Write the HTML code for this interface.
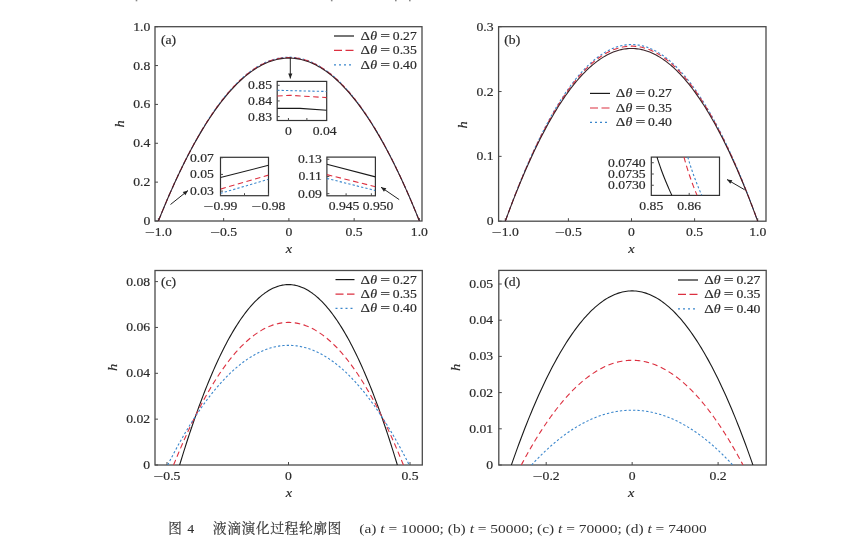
<!DOCTYPE html>
<html><head><meta charset="utf-8"><style>
html,body{margin:0;padding:0;background:#fff;width:857px;height:536px;overflow:hidden}
svg{display:block;filter:blur(0.3px)}
svg text{filter:grayscale(1);font-family:"Liberation Serif", "Noto Serif CJK SC", serif;fill:#2a2a2a;stroke:#2a2a2a;stroke-width:0.18px}
</style></head><body>
<svg width="857" height="536" viewBox="0 0 857 536">
<clipPath id="c1"><rect x="155" y="26.7" width="267" height="194.3"/></clipPath>
<rect x="155" y="26.7" width="267" height="194.3" fill="none" stroke="#4a4a4a" stroke-width="1.3"/>
<line x1="158.40" y1="221" x2="158.40" y2="218.0" stroke="#4a4a4a" stroke-width="1"/>
<text transform="translate(144.94,235.60) scale(1.5,1)" text-anchor="start" font-size="11.6" >&#8722;</text>
<text transform="translate(154.75,235.60) scale(1.18,1)" text-anchor="start" font-size="11.6" >1.0</text>
<line x1="223.65" y1="221" x2="223.65" y2="218.0" stroke="#4a4a4a" stroke-width="1"/>
<text transform="translate(210.19,235.60) scale(1.5,1)" text-anchor="start" font-size="11.6" >&#8722;</text>
<text transform="translate(220.00,235.60) scale(1.18,1)" text-anchor="start" font-size="11.6" >0.5</text>
<line x1="288.90" y1="221" x2="288.90" y2="218.0" stroke="#4a4a4a" stroke-width="1"/>
<text transform="translate(288.90,235.60) scale(1.18,1)" text-anchor="middle" font-size="11.6" >0</text>
<line x1="354.15" y1="221" x2="354.15" y2="218.0" stroke="#4a4a4a" stroke-width="1"/>
<text transform="translate(354.15,235.60) scale(1.18,1)" text-anchor="middle" font-size="11.6" >0.5</text>
<line x1="419.40" y1="221" x2="419.40" y2="218.0" stroke="#4a4a4a" stroke-width="1"/>
<text transform="translate(419.40,235.60) scale(1.18,1)" text-anchor="middle" font-size="11.6" >1.0</text>
<line x1="155" y1="221.00" x2="158.0" y2="221.00" stroke="#4a4a4a" stroke-width="1"/>
<text transform="translate(150.30,225.00) scale(1.18,1)" text-anchor="end" font-size="11.6" >0</text>
<line x1="155" y1="182.14" x2="158.0" y2="182.14" stroke="#4a4a4a" stroke-width="1"/>
<text transform="translate(150.30,186.14) scale(1.18,1)" text-anchor="end" font-size="11.6" >0.2</text>
<line x1="155" y1="143.28" x2="158.0" y2="143.28" stroke="#4a4a4a" stroke-width="1"/>
<text transform="translate(150.30,147.28) scale(1.18,1)" text-anchor="end" font-size="11.6" >0.4</text>
<line x1="155" y1="104.42" x2="158.0" y2="104.42" stroke="#4a4a4a" stroke-width="1"/>
<text transform="translate(150.30,108.42) scale(1.18,1)" text-anchor="end" font-size="11.6" >0.6</text>
<line x1="155" y1="65.56" x2="158.0" y2="65.56" stroke="#4a4a4a" stroke-width="1"/>
<text transform="translate(150.30,69.56) scale(1.18,1)" text-anchor="end" font-size="11.6" >0.8</text>
<line x1="155" y1="26.70" x2="158.0" y2="26.70" stroke="#4a4a4a" stroke-width="1"/>
<text transform="translate(150.30,30.70) scale(1.18,1)" text-anchor="end" font-size="11.6" >1.0</text>
<polyline points="158.40,221.00 160.04,216.90 161.68,212.86 163.32,208.87 164.97,204.93 166.61,201.04 168.25,197.20 169.89,193.42 171.53,189.69 173.17,186.01 174.82,182.38 176.46,178.80 178.10,175.27 179.74,171.80 181.38,168.38 183.02,165.01 184.66,161.69 186.31,158.42 187.95,155.21 189.59,152.05 191.23,148.94 192.87,145.88 194.51,142.87 196.15,139.92 197.80,137.01 199.44,134.16 201.08,131.36 202.72,128.61 204.36,125.92 206.00,123.27 207.65,120.68 209.29,118.14 210.93,115.65 212.57,113.22 214.21,110.83 215.85,108.50 217.49,106.22 219.14,103.99 220.78,101.81 222.42,99.68 224.06,97.61 225.70,95.59 227.34,93.62 228.98,91.70 230.63,89.83 232.27,88.02 233.91,86.26 235.55,84.55 237.19,82.89 238.83,81.28 240.48,79.72 242.12,78.22 243.76,76.77 245.40,75.37 247.04,74.02 248.68,72.73 250.32,71.48 251.97,70.29 253.61,69.15 255.25,68.06 256.89,67.02 258.53,66.04 260.17,65.10 261.82,64.22 263.46,63.39 265.10,62.62 266.74,61.89 268.38,61.22 270.02,60.59 271.66,60.02 273.31,59.51 274.95,59.04 276.59,58.62 278.23,58.26 279.87,57.95 281.51,57.69 283.15,57.48 284.80,57.33 286.44,57.22 288.08,57.17 289.72,57.17 291.36,57.22 293.00,57.33 294.65,57.48 296.29,57.69 297.93,57.95 299.57,58.26 301.21,58.62 302.85,59.04 304.49,59.51 306.14,60.02 307.78,60.59 309.42,61.22 311.06,61.89 312.70,62.62 314.34,63.39 315.98,64.22 317.63,65.10 319.27,66.04 320.91,67.02 322.55,68.06 324.19,69.15 325.83,70.29 327.48,71.48 329.12,72.73 330.76,74.02 332.40,75.37 334.04,76.77 335.68,78.22 337.32,79.72 338.97,81.28 340.61,82.89 342.25,84.55 343.89,86.26 345.53,88.02 347.17,89.83 348.82,91.70 350.46,93.62 352.10,95.59 353.74,97.61 355.38,99.68 357.02,101.81 358.66,103.99 360.31,106.22 361.95,108.50 363.59,110.83 365.23,113.22 366.87,115.65 368.51,118.14 370.15,120.68 371.80,123.27 373.44,125.92 375.08,128.61 376.72,131.36 378.36,134.16 380.00,137.01 381.65,139.92 383.29,142.87 384.93,145.88 386.57,148.94 388.21,152.05 389.85,155.21 391.49,158.42 393.14,161.69 394.78,165.01 396.42,168.38 398.06,171.80 399.70,175.27 401.34,178.80 402.98,182.38 404.63,186.01 406.27,189.69 407.91,193.42 409.55,197.20 411.19,201.04 412.83,204.93 414.48,208.87 416.12,212.86 417.76,216.90 419.40,221.00" fill="none" stroke="#3a86cc" stroke-width="1.1" stroke-dasharray="2.3 2.1" clip-path="url(#c1)" stroke-linejoin="round"/>
<polyline points="158.40,221.00 160.04,216.91 161.68,212.87 163.32,208.89 164.97,204.96 166.61,201.07 168.25,197.24 169.89,193.46 171.53,189.74 173.17,186.06 174.82,182.44 176.46,178.87 178.10,175.35 179.74,171.88 181.38,168.47 183.02,165.10 184.66,161.79 186.31,158.53 187.95,155.32 189.59,152.16 191.23,149.06 192.87,146.00 194.51,143.00 196.15,140.05 197.80,137.15 199.44,134.31 201.08,131.51 202.72,128.77 204.36,126.08 206.00,123.44 207.65,120.85 209.29,118.31 210.93,115.83 212.57,113.40 214.21,111.01 215.85,108.69 217.49,106.41 219.14,104.18 220.78,102.01 222.42,99.89 224.06,97.82 225.70,95.80 227.34,93.83 228.98,91.92 230.63,90.05 232.27,88.24 233.91,86.48 235.55,84.77 237.19,83.12 238.83,81.51 240.48,79.96 242.12,78.46 243.76,77.01 245.40,75.61 247.04,74.27 248.68,72.97 250.32,71.73 251.97,70.54 253.61,69.40 255.25,68.31 256.89,67.28 258.53,66.30 260.17,65.36 261.82,64.48 263.46,63.66 265.10,62.88 266.74,62.15 268.38,61.48 270.02,60.86 271.66,60.29 273.31,59.77 274.95,59.31 276.59,58.89 278.23,58.53 279.87,58.22 281.51,57.96 283.15,57.76 284.80,57.60 286.44,57.50 288.08,57.44 289.72,57.44 291.36,57.50 293.00,57.60 294.65,57.76 296.29,57.96 297.93,58.22 299.57,58.53 301.21,58.89 302.85,59.31 304.49,59.77 306.14,60.29 307.78,60.86 309.42,61.48 311.06,62.15 312.70,62.88 314.34,63.66 315.98,64.48 317.63,65.36 319.27,66.30 320.91,67.28 322.55,68.31 324.19,69.40 325.83,70.54 327.48,71.73 329.12,72.97 330.76,74.27 332.40,75.61 334.04,77.01 335.68,78.46 337.32,79.96 338.97,81.51 340.61,83.12 342.25,84.77 343.89,86.48 345.53,88.24 347.17,90.05 348.82,91.92 350.46,93.83 352.10,95.80 353.74,97.82 355.38,99.89 357.02,102.01 358.66,104.18 360.31,106.41 361.95,108.69 363.59,111.01 365.23,113.40 366.87,115.83 368.51,118.31 370.15,120.85 371.80,123.44 373.44,126.08 375.08,128.77 376.72,131.51 378.36,134.31 380.00,137.15 381.65,140.05 383.29,143.00 384.93,146.00 386.57,149.06 388.21,152.16 389.85,155.32 391.49,158.53 393.14,161.79 394.78,165.10 396.42,168.47 398.06,171.88 399.70,175.35 401.34,178.87 402.98,182.44 404.63,186.06 406.27,189.74 407.91,193.46 409.55,197.24 411.19,201.07 412.83,204.96 414.48,208.89 416.12,212.87 417.76,216.91 419.40,221.00" fill="none" stroke="#dc3040" stroke-width="1.1" stroke-dasharray="5.5 3.5" clip-path="url(#c1)" stroke-linejoin="round"/>
<polyline points="158.40,221.00 160.04,216.93 161.68,212.91 163.32,208.94 164.97,205.02 166.61,201.15 168.25,197.34 169.89,193.57 171.53,189.86 173.17,186.20 174.82,182.59 176.46,179.03 178.10,175.53 179.74,172.07 181.38,168.67 183.02,165.32 184.66,162.02 186.31,158.77 187.95,155.58 189.59,152.43 191.23,149.34 192.87,146.30 194.51,143.31 196.15,140.37 197.80,137.48 199.44,134.65 201.08,131.86 202.72,129.13 204.36,126.45 206.00,123.82 207.65,121.24 209.29,118.71 210.93,116.24 212.57,113.82 214.21,111.45 215.85,109.13 217.49,106.86 219.14,104.64 220.78,102.47 222.42,100.36 224.06,98.30 225.70,96.29 227.34,94.33 228.98,92.42 230.63,90.57 232.27,88.76 233.91,87.01 235.55,85.31 237.19,83.66 238.83,82.06 240.48,80.51 242.12,79.02 243.76,77.57 245.40,76.18 247.04,74.84 248.68,73.55 250.32,72.32 251.97,71.13 253.61,70.00 255.25,68.91 256.89,67.88 258.53,66.90 260.17,65.97 261.82,65.10 263.46,64.27 265.10,63.50 266.74,62.78 268.38,62.11 270.02,61.49 271.66,60.92 273.31,60.41 274.95,59.94 276.59,59.53 278.23,59.17 279.87,58.86 281.51,58.60 283.15,58.40 284.80,58.24 286.44,58.14 288.08,58.09 289.72,58.09 291.36,58.14 293.00,58.24 294.65,58.40 296.29,58.60 297.93,58.86 299.57,59.17 301.21,59.53 302.85,59.94 304.49,60.41 306.14,60.92 307.78,61.49 309.42,62.11 311.06,62.78 312.70,63.50 314.34,64.27 315.98,65.10 317.63,65.97 319.27,66.90 320.91,67.88 322.55,68.91 324.19,70.00 325.83,71.13 327.48,72.32 329.12,73.55 330.76,74.84 332.40,76.18 334.04,77.57 335.68,79.02 337.32,80.51 338.97,82.06 340.61,83.66 342.25,85.31 343.89,87.01 345.53,88.76 347.17,90.57 348.82,92.42 350.46,94.33 352.10,96.29 353.74,98.30 355.38,100.36 357.02,102.47 358.66,104.64 360.31,106.86 361.95,109.13 363.59,111.45 365.23,113.82 366.87,116.24 368.51,118.71 370.15,121.24 371.80,123.82 373.44,126.45 375.08,129.13 376.72,131.86 378.36,134.65 380.00,137.48 381.65,140.37 383.29,143.31 384.93,146.30 386.57,149.34 388.21,152.43 389.85,155.58 391.49,158.77 393.14,162.02 394.78,165.32 396.42,168.67 398.06,172.07 399.70,175.53 401.34,179.03 402.98,182.59 404.63,186.20 406.27,189.86 407.91,193.57 409.55,197.34 411.19,201.15 412.83,205.02 414.48,208.94 416.12,212.91 417.76,216.93 419.40,221.00" fill="none" stroke="#3a2228" stroke-width="1.1" clip-path="url(#c1)" stroke-linejoin="round"/>
<text transform="translate(161.00,43.50) scale(1.18,1)" text-anchor="start" font-size="11.6" >(a)</text>
<line x1="334" y1="36" x2="354" y2="36" stroke="#1a1a1a" stroke-width="1.2"/>
<text transform="translate(360.60,40.00) scale(1.28,1)" text-anchor="start" font-size="11.6" >&#916;</text>
<text transform="translate(370.20,40.00) scale(1.2,1)" text-anchor="start" font-size="11.6" font-style="italic">&#952;</text>
<text transform="translate(380.20,40.00) scale(1.5,1)" text-anchor="start" font-size="11.6" >=</text>
<text transform="translate(392.80,40.00) scale(1.18,1)" text-anchor="start" font-size="11.6" >0.27</text>
<line x1="334" y1="50.4" x2="354" y2="50.4" stroke="#dc3040" stroke-width="1.2" stroke-dasharray="8 3.5"/>
<text transform="translate(360.60,54.40) scale(1.28,1)" text-anchor="start" font-size="11.6" >&#916;</text>
<text transform="translate(370.20,54.40) scale(1.2,1)" text-anchor="start" font-size="11.6" font-style="italic">&#952;</text>
<text transform="translate(380.20,54.40) scale(1.5,1)" text-anchor="start" font-size="11.6" >=</text>
<text transform="translate(392.80,54.40) scale(1.18,1)" text-anchor="start" font-size="11.6" >0.35</text>
<line x1="334" y1="64.8" x2="354" y2="64.8" stroke="#3a86cc" stroke-width="1.2" stroke-dasharray="2 3"/>
<text transform="translate(360.60,68.80) scale(1.28,1)" text-anchor="start" font-size="11.6" >&#916;</text>
<text transform="translate(370.20,68.80) scale(1.2,1)" text-anchor="start" font-size="11.6" font-style="italic">&#952;</text>
<text transform="translate(380.20,68.80) scale(1.5,1)" text-anchor="start" font-size="11.6" >=</text>
<text transform="translate(392.80,68.80) scale(1.18,1)" text-anchor="start" font-size="11.6" >0.40</text>
<text transform="translate(123.5,124) rotate(-90) scale(1.15,1)" font-size="12.5" font-style="italic" text-anchor="middle">h</text>
<text transform="translate(288.9,253) scale(1.15,1)" font-size="12.5" font-style="italic" text-anchor="middle">x</text>
<clipPath id="c2"><rect x="498.6" y="26.7" width="267.4" height="194.5"/></clipPath>
<rect x="498.6" y="26.7" width="267.4" height="194.5" fill="none" stroke="#4a4a4a" stroke-width="1.3"/>
<line x1="505.30" y1="221.2" x2="505.30" y2="218.2" stroke="#4a4a4a" stroke-width="1"/>
<text transform="translate(491.84,235.80) scale(1.5,1)" text-anchor="start" font-size="11.6" >&#8722;</text>
<text transform="translate(501.65,235.80) scale(1.18,1)" text-anchor="start" font-size="11.6" >1.0</text>
<line x1="568.40" y1="221.2" x2="568.40" y2="218.2" stroke="#4a4a4a" stroke-width="1"/>
<text transform="translate(554.94,235.80) scale(1.5,1)" text-anchor="start" font-size="11.6" >&#8722;</text>
<text transform="translate(564.75,235.80) scale(1.18,1)" text-anchor="start" font-size="11.6" >0.5</text>
<line x1="631.50" y1="221.2" x2="631.50" y2="218.2" stroke="#4a4a4a" stroke-width="1"/>
<text transform="translate(631.50,235.80) scale(1.18,1)" text-anchor="middle" font-size="11.6" >0</text>
<line x1="694.60" y1="221.2" x2="694.60" y2="218.2" stroke="#4a4a4a" stroke-width="1"/>
<text transform="translate(694.60,235.80) scale(1.18,1)" text-anchor="middle" font-size="11.6" >0.5</text>
<line x1="757.70" y1="221.2" x2="757.70" y2="218.2" stroke="#4a4a4a" stroke-width="1"/>
<text transform="translate(757.70,235.80) scale(1.18,1)" text-anchor="middle" font-size="11.6" >1.0</text>
<line x1="498.6" y1="221.20" x2="501.6" y2="221.20" stroke="#4a4a4a" stroke-width="1"/>
<text transform="translate(493.50,225.20) scale(1.18,1)" text-anchor="end" font-size="11.6" >0</text>
<line x1="498.6" y1="156.37" x2="501.6" y2="156.37" stroke="#4a4a4a" stroke-width="1"/>
<text transform="translate(493.50,160.37) scale(1.18,1)" text-anchor="end" font-size="11.6" >0.1</text>
<line x1="498.6" y1="91.54" x2="501.6" y2="91.54" stroke="#4a4a4a" stroke-width="1"/>
<text transform="translate(493.50,95.54) scale(1.18,1)" text-anchor="end" font-size="11.6" >0.2</text>
<line x1="498.6" y1="26.71" x2="501.6" y2="26.71" stroke="#4a4a4a" stroke-width="1"/>
<text transform="translate(493.50,30.71) scale(1.18,1)" text-anchor="end" font-size="11.6" >0.3</text>
<polyline points="505.30,221.20 506.89,216.78 508.47,212.42 510.06,208.12 511.65,203.87 513.24,199.68 514.82,195.54 516.41,191.46 518.00,187.43 519.59,183.47 521.17,179.55 522.76,175.69 524.35,171.89 525.94,168.15 527.52,164.46 529.11,160.82 530.70,157.25 532.29,153.72 533.87,150.26 535.46,146.85 537.05,143.49 538.64,140.20 540.22,136.95 541.81,133.77 543.40,130.64 544.99,127.56 546.57,124.54 548.16,121.58 549.75,118.67 551.34,115.82 552.92,113.03 554.51,110.29 556.10,107.60 557.68,104.98 559.27,102.41 560.86,99.89 562.45,97.43 564.03,95.03 565.62,92.68 567.21,90.39 568.80,88.15 570.38,85.97 571.97,83.85 573.56,81.78 575.15,79.76 576.73,77.81 578.32,75.91 579.91,74.06 581.50,72.27 583.08,70.54 584.67,68.86 586.26,67.24 587.85,65.68 589.43,64.17 591.02,62.71 592.61,61.32 594.20,59.97 595.78,58.69 597.37,57.46 598.96,56.28 600.55,55.17 602.13,54.10 603.72,53.10 605.31,52.15 606.89,51.25 608.48,50.42 610.07,49.63 611.66,48.91 613.24,48.23 614.83,47.62 616.42,47.06 618.01,46.56 619.59,46.11 621.18,45.72 622.77,45.38 624.36,45.10 625.94,44.88 627.53,44.71 629.12,44.60 630.71,44.55 632.29,44.55 633.88,44.60 635.47,44.71 637.06,44.88 638.64,45.10 640.23,45.38 641.82,45.72 643.41,46.11 644.99,46.56 646.58,47.06 648.17,47.62 649.76,48.23 651.34,48.91 652.93,49.63 654.52,50.42 656.11,51.25 657.69,52.15 659.28,53.10 660.87,54.10 662.45,55.17 664.04,56.28 665.63,57.46 667.22,58.69 668.80,59.97 670.39,61.32 671.98,62.71 673.57,64.17 675.15,65.68 676.74,67.24 678.33,68.86 679.92,70.54 681.50,72.27 683.09,74.06 684.68,75.91 686.27,77.81 687.85,79.76 689.44,81.78 691.03,83.85 692.62,85.97 694.20,88.15 695.79,90.39 697.38,92.68 698.97,95.03 700.55,97.43 702.14,99.89 703.73,102.41 705.32,104.98 706.90,107.60 708.49,110.29 710.08,113.03 711.66,115.82 713.25,118.67 714.84,121.58 716.43,124.54 718.01,127.56 719.60,130.64 721.19,133.77 722.78,136.95 724.36,140.20 725.95,143.49 727.54,146.85 729.13,150.26 730.71,153.72 732.30,157.25 733.89,160.82 735.48,164.46 737.06,168.15 738.65,171.89 740.24,175.69 741.83,179.55 743.41,183.47 745.00,187.43 746.59,191.46 748.18,195.54 749.76,199.68 751.35,203.87 752.94,208.12 754.53,212.42 756.11,216.78 757.70,221.20" fill="none" stroke="#3a86cc" stroke-width="1.1" stroke-dasharray="2.3 2.1" clip-path="url(#c2)" stroke-linejoin="round"/>
<polyline points="505.30,221.20 506.89,216.82 508.47,212.50 510.06,208.24 511.65,204.03 513.24,199.87 514.82,195.78 516.41,191.73 518.00,187.74 519.59,183.81 521.17,179.93 522.76,176.11 524.35,172.35 525.94,168.63 527.52,164.98 529.11,161.38 530.70,157.83 532.29,154.34 533.87,150.91 535.46,147.53 537.05,144.21 538.64,140.94 540.22,137.73 541.81,134.57 543.40,131.47 544.99,128.42 546.57,125.43 548.16,122.49 549.75,119.61 551.34,116.79 552.92,114.02 554.51,111.31 556.10,108.65 557.68,106.04 559.27,103.50 560.86,101.00 562.45,98.57 564.03,96.18 565.62,93.86 567.21,91.59 568.80,89.37 570.38,87.21 571.97,85.11 573.56,83.06 575.15,81.06 576.73,79.12 578.32,77.24 579.91,75.41 581.50,73.64 583.08,71.92 584.67,70.26 586.26,68.65 587.85,67.10 589.43,65.61 591.02,64.17 592.61,62.78 594.20,61.45 595.78,60.18 597.37,58.96 598.96,57.80 600.55,56.69 602.13,55.64 603.72,54.64 605.31,53.70 606.89,52.81 608.48,51.98 610.07,51.21 611.66,50.49 613.24,49.82 614.83,49.21 616.42,48.66 618.01,48.16 619.59,47.72 621.18,47.33 622.77,47.00 624.36,46.72 625.94,46.50 627.53,46.33 629.12,46.22 630.71,46.17 632.29,46.17 633.88,46.22 635.47,46.33 637.06,46.50 638.64,46.72 640.23,47.00 641.82,47.33 643.41,47.72 644.99,48.16 646.58,48.66 648.17,49.21 649.76,49.82 651.34,50.49 652.93,51.21 654.52,51.98 656.11,52.81 657.69,53.70 659.28,54.64 660.87,55.64 662.45,56.69 664.04,57.80 665.63,58.96 667.22,60.18 668.80,61.45 670.39,62.78 671.98,64.17 673.57,65.61 675.15,67.10 676.74,68.65 678.33,70.26 679.92,71.92 681.50,73.64 683.09,75.41 684.68,77.24 686.27,79.12 687.85,81.06 689.44,83.06 691.03,85.11 692.62,87.21 694.20,89.37 695.79,91.59 697.38,93.86 698.97,96.18 700.55,98.57 702.14,101.00 703.73,103.50 705.32,106.04 706.90,108.65 708.49,111.31 710.08,114.02 711.66,116.79 713.25,119.61 714.84,122.49 716.43,125.43 718.01,128.42 719.60,131.47 721.19,134.57 722.78,137.73 724.36,140.94 725.95,144.21 727.54,147.53 729.13,150.91 730.71,154.34 732.30,157.83 733.89,161.38 735.48,164.98 737.06,168.63 738.65,172.35 740.24,176.11 741.83,179.93 743.41,183.81 745.00,187.74 746.59,191.73 748.18,195.78 749.76,199.87 751.35,204.03 752.94,208.24 754.53,212.50 756.11,216.82 757.70,221.20" fill="none" stroke="#dc3040" stroke-width="1.1" stroke-dasharray="5.5 3.5" clip-path="url(#c2)" stroke-linejoin="round"/>
<polyline points="505.30,221.20 506.89,216.88 508.47,212.62 510.06,208.41 511.65,204.26 513.24,200.16 514.82,196.11 516.41,192.13 518.00,188.19 519.59,184.31 521.17,180.48 522.76,176.71 524.35,173.00 525.94,169.34 527.52,165.73 529.11,162.18 530.70,158.68 532.29,155.24 533.87,151.85 535.46,148.51 537.05,145.23 538.64,142.01 540.22,138.84 541.81,135.72 543.40,132.66 544.99,129.66 546.57,126.71 548.16,123.81 549.75,120.97 551.34,118.18 552.92,115.45 554.51,112.77 556.10,110.15 557.68,107.58 559.27,105.06 560.86,102.61 562.45,100.20 564.03,97.85 565.62,95.56 567.21,93.31 568.80,91.13 570.38,89.00 571.97,86.92 573.56,84.90 575.15,82.93 576.73,81.02 578.32,79.16 579.91,77.36 581.50,75.61 583.08,73.91 584.67,72.27 586.26,70.69 587.85,69.16 589.43,67.68 591.02,66.26 592.61,64.90 594.20,63.58 595.78,62.33 597.37,61.12 598.96,59.98 600.55,58.88 602.13,57.85 603.72,56.86 605.31,55.93 606.89,55.06 608.48,54.24 610.07,53.47 611.66,52.76 613.24,52.11 614.83,51.51 616.42,50.96 618.01,50.47 619.59,50.03 621.18,49.65 622.77,49.32 624.36,49.05 625.94,48.83 627.53,48.66 629.12,48.55 630.71,48.50 632.29,48.50 633.88,48.55 635.47,48.66 637.06,48.83 638.64,49.05 640.23,49.32 641.82,49.65 643.41,50.03 644.99,50.47 646.58,50.96 648.17,51.51 649.76,52.11 651.34,52.76 652.93,53.47 654.52,54.24 656.11,55.06 657.69,55.93 659.28,56.86 660.87,57.85 662.45,58.88 664.04,59.98 665.63,61.12 667.22,62.33 668.80,63.58 670.39,64.90 671.98,66.26 673.57,67.68 675.15,69.16 676.74,70.69 678.33,72.27 679.92,73.91 681.50,75.61 683.09,77.36 684.68,79.16 686.27,81.02 687.85,82.93 689.44,84.90 691.03,86.92 692.62,89.00 694.20,91.13 695.79,93.31 697.38,95.56 698.97,97.85 700.55,100.20 702.14,102.61 703.73,105.06 705.32,107.58 706.90,110.15 708.49,112.77 710.08,115.45 711.66,118.18 713.25,120.97 714.84,123.81 716.43,126.71 718.01,129.66 719.60,132.66 721.19,135.72 722.78,138.84 724.36,142.01 725.95,145.23 727.54,148.51 729.13,151.85 730.71,155.24 732.30,158.68 733.89,162.18 735.48,165.73 737.06,169.34 738.65,173.00 740.24,176.71 741.83,180.48 743.41,184.31 745.00,188.19 746.59,192.13 748.18,196.11 749.76,200.16 751.35,204.26 752.94,208.41 754.53,212.62 756.11,216.88 757.70,221.20" fill="none" stroke="#3a2228" stroke-width="1.1" clip-path="url(#c2)" stroke-linejoin="round"/>
<text transform="translate(504.30,43.50) scale(1.18,1)" text-anchor="start" font-size="11.6" >(b)</text>
<line x1="590" y1="93.4" x2="610" y2="93.4" stroke="#1a1a1a" stroke-width="1.2"/>
<text transform="translate(615.80,97.40) scale(1.28,1)" text-anchor="start" font-size="11.6" >&#916;</text>
<text transform="translate(625.40,97.40) scale(1.2,1)" text-anchor="start" font-size="11.6" font-style="italic">&#952;</text>
<text transform="translate(635.40,97.40) scale(1.5,1)" text-anchor="start" font-size="11.6" >=</text>
<text transform="translate(648.00,97.40) scale(1.18,1)" text-anchor="start" font-size="11.6" >0.27</text>
<line x1="590" y1="108" x2="610" y2="108" stroke="#dc3040" stroke-width="1.2" stroke-dasharray="8 3.5"/>
<text transform="translate(615.80,112.00) scale(1.28,1)" text-anchor="start" font-size="11.6" >&#916;</text>
<text transform="translate(625.40,112.00) scale(1.2,1)" text-anchor="start" font-size="11.6" font-style="italic">&#952;</text>
<text transform="translate(635.40,112.00) scale(1.5,1)" text-anchor="start" font-size="11.6" >=</text>
<text transform="translate(648.00,112.00) scale(1.18,1)" text-anchor="start" font-size="11.6" >0.35</text>
<line x1="590" y1="122.4" x2="610" y2="122.4" stroke="#3a86cc" stroke-width="1.2" stroke-dasharray="2 3"/>
<text transform="translate(615.80,126.40) scale(1.28,1)" text-anchor="start" font-size="11.6" >&#916;</text>
<text transform="translate(625.40,126.40) scale(1.2,1)" text-anchor="start" font-size="11.6" font-style="italic">&#952;</text>
<text transform="translate(635.40,126.40) scale(1.5,1)" text-anchor="start" font-size="11.6" >=</text>
<text transform="translate(648.00,126.40) scale(1.18,1)" text-anchor="start" font-size="11.6" >0.40</text>
<text transform="translate(466.5,125) rotate(-90) scale(1.15,1)" font-size="12.5" font-style="italic" text-anchor="middle">h</text>
<text transform="translate(631.5,253) scale(1.15,1)" font-size="12.5" font-style="italic" text-anchor="middle">x</text>
<clipPath id="c3"><rect x="155" y="270.5" width="267.3" height="194.5"/></clipPath>
<rect x="155" y="270.5" width="267.3" height="194.5" fill="none" stroke="#4a4a4a" stroke-width="1.3"/>
<line x1="167.00" y1="465" x2="167.00" y2="462.0" stroke="#4a4a4a" stroke-width="1"/>
<text transform="translate(153.54,479.60) scale(1.5,1)" text-anchor="start" font-size="11.6" >&#8722;</text>
<text transform="translate(163.35,479.60) scale(1.18,1)" text-anchor="start" font-size="11.6" >0.5</text>
<line x1="288.50" y1="465" x2="288.50" y2="462.0" stroke="#4a4a4a" stroke-width="1"/>
<text transform="translate(288.50,479.60) scale(1.18,1)" text-anchor="middle" font-size="11.6" >0</text>
<line x1="410.00" y1="465" x2="410.00" y2="462.0" stroke="#4a4a4a" stroke-width="1"/>
<text transform="translate(410.00,479.60) scale(1.18,1)" text-anchor="middle" font-size="11.6" >0.5</text>
<line x1="155" y1="465.00" x2="158.0" y2="465.00" stroke="#4a4a4a" stroke-width="1"/>
<text transform="translate(150.10,469.00) scale(1.18,1)" text-anchor="end" font-size="11.6" >0</text>
<line x1="155" y1="419.15" x2="158.0" y2="419.15" stroke="#4a4a4a" stroke-width="1"/>
<text transform="translate(150.10,423.15) scale(1.18,1)" text-anchor="end" font-size="11.6" >0.02</text>
<line x1="155" y1="373.30" x2="158.0" y2="373.30" stroke="#4a4a4a" stroke-width="1"/>
<text transform="translate(150.10,377.30) scale(1.18,1)" text-anchor="end" font-size="11.6" >0.04</text>
<line x1="155" y1="327.45" x2="158.0" y2="327.45" stroke="#4a4a4a" stroke-width="1"/>
<text transform="translate(150.10,331.45) scale(1.18,1)" text-anchor="end" font-size="11.6" >0.06</text>
<line x1="155" y1="281.60" x2="158.0" y2="281.60" stroke="#4a4a4a" stroke-width="1"/>
<text transform="translate(150.10,285.60) scale(1.18,1)" text-anchor="end" font-size="11.6" >0.08</text>
<polyline points="179.64,465.00 181.01,460.49 182.37,456.04 183.74,451.64 185.11,447.30 186.48,443.02 187.85,438.79 189.22,434.63 190.59,430.52 191.96,426.46 193.33,422.47 194.70,418.53 196.07,414.64 197.44,410.82 198.81,407.05 200.18,403.34 201.55,399.69 202.92,396.09 204.28,392.55 205.65,389.07 207.02,385.64 208.39,382.27 209.76,378.96 211.13,375.71 212.50,372.51 213.87,369.37 215.24,366.29 216.61,363.26 217.98,360.29 219.35,357.38 220.72,354.53 222.09,351.73 223.46,348.99 224.82,346.30 226.19,343.68 227.56,341.11 228.93,338.60 230.30,336.14 231.67,333.74 233.04,331.40 234.41,329.12 235.78,326.89 237.15,324.72 238.52,322.61 239.89,320.56 241.26,318.56 242.63,316.62 244.00,314.73 245.37,312.91 246.73,311.14 248.10,309.42 249.47,307.77 250.84,306.17 252.21,304.63 253.58,303.14 254.95,301.72 256.32,300.34 257.69,299.03 259.06,297.78 260.43,296.58 261.80,295.43 263.17,294.35 264.54,293.32 265.91,292.35 267.27,291.44 268.64,290.58 270.01,289.78 271.38,289.04 272.75,288.36 274.12,287.73 275.49,287.16 276.86,286.64 278.23,286.19 279.60,285.79 280.97,285.44 282.34,285.16 283.71,284.93 285.08,284.76 286.45,284.64 287.82,284.59 289.18,284.59 290.55,284.64 291.92,284.76 293.29,284.93 294.66,285.16 296.03,285.44 297.40,285.79 298.77,286.19 300.14,286.64 301.51,287.16 302.88,287.73 304.25,288.36 305.62,289.04 306.99,289.78 308.36,290.58 309.73,291.44 311.09,292.35 312.46,293.32 313.83,294.35 315.20,295.43 316.57,296.58 317.94,297.78 319.31,299.03 320.68,300.34 322.05,301.72 323.42,303.14 324.79,304.63 326.16,306.17 327.53,307.77 328.90,309.42 330.27,311.14 331.63,312.91 333.00,314.73 334.37,316.62 335.74,318.56 337.11,320.56 338.48,322.61 339.85,324.72 341.22,326.89 342.59,329.12 343.96,331.40 345.33,333.74 346.70,336.14 348.07,338.60 349.44,341.11 350.81,343.68 352.18,346.30 353.54,348.99 354.91,351.73 356.28,354.53 357.65,357.38 359.02,360.29 360.39,363.26 361.76,366.29 363.13,369.37 364.50,372.51 365.87,375.71 367.24,378.96 368.61,382.27 369.98,385.64 371.35,389.07 372.72,392.55 374.08,396.09 375.45,399.69 376.82,403.34 378.19,407.05 379.56,410.82 380.93,414.64 382.30,418.53 383.67,422.47 385.04,426.46 386.41,430.52 387.78,434.63 389.15,438.79 390.52,443.02 391.89,447.30 393.26,451.64 394.63,456.04 395.99,460.49 397.36,465.00" fill="none" stroke="#1a1a1a" stroke-width="1.1" clip-path="url(#c3)" stroke-linejoin="round"/>
<polyline points="173.56,465.00 175.01,461.44 176.45,457.92 177.90,454.44 179.34,451.01 180.79,447.63 182.24,444.29 183.68,440.99 185.13,437.75 186.57,434.54 188.02,431.38 189.46,428.27 190.91,425.20 192.36,422.18 193.80,419.20 195.25,416.27 196.69,413.38 198.14,410.54 199.58,407.74 201.03,404.99 202.48,402.28 203.92,399.62 205.37,397.00 206.81,394.43 208.26,391.90 209.71,389.42 211.15,386.98 212.60,384.59 214.04,382.24 215.49,379.94 216.93,377.69 218.38,375.48 219.83,373.31 221.27,371.19 222.72,369.11 224.16,367.08 225.61,365.10 227.05,363.16 228.50,361.26 229.95,359.41 231.39,357.61 232.84,355.85 234.28,354.13 235.73,352.46 237.18,350.84 238.62,349.26 240.07,347.73 241.51,346.24 242.96,344.79 244.40,343.39 245.85,342.04 247.30,340.73 248.74,339.47 250.19,338.25 251.63,337.08 253.08,335.95 254.52,334.87 255.97,333.83 257.42,332.84 258.86,331.89 260.31,330.99 261.75,330.13 263.20,329.32 264.64,328.55 266.09,327.83 267.54,327.15 268.98,326.52 270.43,325.93 271.87,325.39 273.32,324.89 274.77,324.44 276.21,324.04 277.66,323.68 279.10,323.36 280.55,323.09 281.99,322.86 283.44,322.68 284.89,322.55 286.33,322.46 287.78,322.41 289.22,322.41 290.67,322.46 292.11,322.55 293.56,322.68 295.01,322.86 296.45,323.09 297.90,323.36 299.34,323.68 300.79,324.04 302.23,324.44 303.68,324.89 305.13,325.39 306.57,325.93 308.02,326.52 309.46,327.15 310.91,327.83 312.36,328.55 313.80,329.32 315.25,330.13 316.69,330.99 318.14,331.89 319.58,332.84 321.03,333.83 322.48,334.87 323.92,335.95 325.37,337.08 326.81,338.25 328.26,339.47 329.70,340.73 331.15,342.04 332.60,343.39 334.04,344.79 335.49,346.24 336.93,347.73 338.38,349.26 339.82,350.84 341.27,352.46 342.72,354.13 344.16,355.85 345.61,357.61 347.05,359.41 348.50,361.26 349.95,363.16 351.39,365.10 352.84,367.08 354.28,369.11 355.73,371.19 357.17,373.31 358.62,375.48 360.07,377.69 361.51,379.94 362.96,382.24 364.40,384.59 365.85,386.98 367.29,389.42 368.74,391.90 370.19,394.43 371.63,397.00 373.08,399.62 374.52,402.28 375.97,404.99 377.42,407.74 378.86,410.54 380.31,413.38 381.75,416.27 383.20,419.20 384.64,422.18 386.09,425.20 387.54,428.27 388.98,431.38 390.43,434.54 391.87,437.75 393.32,440.99 394.76,444.29 396.21,447.63 397.66,451.01 399.10,454.44 400.55,457.92 401.99,461.44 403.44,465.00" fill="none" stroke="#dc3040" stroke-width="1.1" stroke-dasharray="5.5 3.5" clip-path="url(#c3)" stroke-linejoin="round"/>
<polyline points="167.73,465.00 169.25,462.01 170.77,459.05 172.29,456.14 173.81,453.26 175.32,450.42 176.84,447.62 178.36,444.85 179.88,442.13 181.40,439.44 182.92,436.79 184.44,434.18 185.96,431.60 187.48,429.06 189.00,426.56 190.52,424.10 192.04,421.68 193.55,419.29 195.07,416.95 196.59,414.64 198.11,412.36 199.63,410.13 201.15,407.93 202.67,405.77 204.19,403.65 205.71,401.57 207.23,399.53 208.75,397.52 210.26,395.55 211.78,393.62 213.30,391.72 214.82,389.87 216.34,388.05 217.86,386.27 219.38,384.53 220.90,382.83 222.42,381.16 223.94,379.53 225.46,377.94 226.98,376.39 228.49,374.87 230.01,373.40 231.53,371.96 233.05,370.56 234.57,369.19 236.09,367.87 237.61,366.58 239.13,365.33 240.65,364.12 242.17,362.94 243.69,361.81 245.20,360.71 246.72,359.65 248.24,358.63 249.76,357.64 251.28,356.70 252.80,355.79 254.32,354.92 255.84,354.08 257.36,353.29 258.88,352.53 260.40,351.81 261.92,351.13 263.43,350.49 264.95,349.88 266.47,349.31 267.99,348.78 269.51,348.29 271.03,347.84 272.55,347.42 274.07,347.04 275.59,346.70 277.11,346.40 278.63,346.13 280.14,345.90 281.66,345.71 283.18,345.56 284.70,345.45 286.22,345.37 287.74,345.34 289.26,345.34 290.78,345.37 292.30,345.45 293.82,345.56 295.34,345.71 296.86,345.90 298.37,346.13 299.89,346.40 301.41,346.70 302.93,347.04 304.45,347.42 305.97,347.84 307.49,348.29 309.01,348.78 310.53,349.31 312.05,349.88 313.57,350.49 315.08,351.13 316.60,351.81 318.12,352.53 319.64,353.29 321.16,354.08 322.68,354.92 324.20,355.79 325.72,356.70 327.24,357.64 328.76,358.63 330.28,359.65 331.80,360.71 333.31,361.81 334.83,362.94 336.35,364.12 337.87,365.33 339.39,366.58 340.91,367.87 342.43,369.19 343.95,370.56 345.47,371.96 346.99,373.40 348.51,374.87 350.02,376.39 351.54,377.94 353.06,379.53 354.58,381.16 356.10,382.83 357.62,384.53 359.14,386.27 360.66,388.05 362.18,389.87 363.70,391.72 365.22,393.62 366.74,395.55 368.25,397.52 369.77,399.53 371.29,401.57 372.81,403.65 374.33,405.77 375.85,407.93 377.37,410.13 378.89,412.36 380.41,414.64 381.93,416.95 383.45,419.29 384.96,421.68 386.48,424.10 388.00,426.56 389.52,429.06 391.04,431.60 392.56,434.18 394.08,436.79 395.60,439.44 397.12,442.13 398.64,444.85 400.16,447.62 401.68,450.42 403.19,453.26 404.71,456.14 406.23,459.05 407.75,462.01 409.27,465.00" fill="none" stroke="#3a86cc" stroke-width="1.1" stroke-dasharray="2.3 2.1" clip-path="url(#c3)" stroke-linejoin="round"/>
<text transform="translate(161.00,286.00) scale(1.18,1)" text-anchor="start" font-size="11.6" >(c)</text>
<line x1="335.5" y1="279.6" x2="354.5" y2="279.6" stroke="#1a1a1a" stroke-width="1.2"/>
<text transform="translate(360.60,283.60) scale(1.28,1)" text-anchor="start" font-size="11.6" >&#916;</text>
<text transform="translate(370.20,283.60) scale(1.2,1)" text-anchor="start" font-size="11.6" font-style="italic">&#952;</text>
<text transform="translate(380.20,283.60) scale(1.5,1)" text-anchor="start" font-size="11.6" >=</text>
<text transform="translate(392.80,283.60) scale(1.18,1)" text-anchor="start" font-size="11.6" >0.27</text>
<line x1="335.5" y1="294.1" x2="354.5" y2="294.1" stroke="#dc3040" stroke-width="1.2" stroke-dasharray="8 3.5"/>
<text transform="translate(360.60,298.10) scale(1.28,1)" text-anchor="start" font-size="11.6" >&#916;</text>
<text transform="translate(370.20,298.10) scale(1.2,1)" text-anchor="start" font-size="11.6" font-style="italic">&#952;</text>
<text transform="translate(380.20,298.10) scale(1.5,1)" text-anchor="start" font-size="11.6" >=</text>
<text transform="translate(392.80,298.10) scale(1.18,1)" text-anchor="start" font-size="11.6" >0.35</text>
<line x1="335.5" y1="308.4" x2="354.5" y2="308.4" stroke="#3a86cc" stroke-width="1.2" stroke-dasharray="2 3"/>
<text transform="translate(360.60,312.40) scale(1.28,1)" text-anchor="start" font-size="11.6" >&#916;</text>
<text transform="translate(370.20,312.40) scale(1.2,1)" text-anchor="start" font-size="11.6" font-style="italic">&#952;</text>
<text transform="translate(380.20,312.40) scale(1.5,1)" text-anchor="start" font-size="11.6" >=</text>
<text transform="translate(392.80,312.40) scale(1.18,1)" text-anchor="start" font-size="11.6" >0.40</text>
<text transform="translate(116.6,367.4) rotate(-90) scale(1.15,1)" font-size="12.5" font-style="italic" text-anchor="middle">h</text>
<text transform="translate(288.9,497) scale(1.15,1)" font-size="12.5" font-style="italic" text-anchor="middle">x</text>
<clipPath id="c4"><rect x="498.8" y="270.4" width="267.40000000000003" height="194.60000000000002"/></clipPath>
<rect x="498.8" y="270.4" width="267.40000000000003" height="194.60000000000002" fill="none" stroke="#4a4a4a" stroke-width="1.3"/>
<line x1="546.20" y1="465" x2="546.20" y2="462.0" stroke="#4a4a4a" stroke-width="1"/>
<text transform="translate(532.74,479.60) scale(1.5,1)" text-anchor="start" font-size="11.6" >&#8722;</text>
<text transform="translate(542.55,479.60) scale(1.18,1)" text-anchor="start" font-size="11.6" >0.2</text>
<line x1="632.15" y1="465" x2="632.15" y2="462.0" stroke="#4a4a4a" stroke-width="1"/>
<text transform="translate(632.15,479.60) scale(1.18,1)" text-anchor="middle" font-size="11.6" >0</text>
<line x1="718.10" y1="465" x2="718.10" y2="462.0" stroke="#4a4a4a" stroke-width="1"/>
<text transform="translate(718.10,479.60) scale(1.18,1)" text-anchor="middle" font-size="11.6" >0.2</text>
<line x1="498.8" y1="465.00" x2="501.8" y2="465.00" stroke="#4a4a4a" stroke-width="1"/>
<text transform="translate(493.10,469.00) scale(1.18,1)" text-anchor="end" font-size="11.6" >0</text>
<line x1="498.8" y1="428.80" x2="501.8" y2="428.80" stroke="#4a4a4a" stroke-width="1"/>
<text transform="translate(493.10,432.80) scale(1.18,1)" text-anchor="end" font-size="11.6" >0.01</text>
<line x1="498.8" y1="392.60" x2="501.8" y2="392.60" stroke="#4a4a4a" stroke-width="1"/>
<text transform="translate(493.10,396.60) scale(1.18,1)" text-anchor="end" font-size="11.6" >0.02</text>
<line x1="498.8" y1="356.40" x2="501.8" y2="356.40" stroke="#4a4a4a" stroke-width="1"/>
<text transform="translate(493.10,360.40) scale(1.18,1)" text-anchor="end" font-size="11.6" >0.03</text>
<line x1="498.8" y1="320.20" x2="501.8" y2="320.20" stroke="#4a4a4a" stroke-width="1"/>
<text transform="translate(493.10,324.20) scale(1.18,1)" text-anchor="end" font-size="11.6" >0.04</text>
<line x1="498.8" y1="284.00" x2="501.8" y2="284.00" stroke="#4a4a4a" stroke-width="1"/>
<text transform="translate(493.10,288.00) scale(1.18,1)" text-anchor="end" font-size="11.6" >0.05</text>
<polyline points="511.39,465.00 512.91,460.65 514.43,456.35 515.95,452.11 517.47,447.92 518.99,443.79 520.50,439.71 522.02,435.69 523.54,431.72 525.06,427.81 526.58,423.95 528.10,420.15 529.62,416.40 531.14,412.71 532.66,409.07 534.18,405.49 535.69,401.97 537.21,398.49 538.73,395.08 540.25,391.72 541.77,388.41 543.29,385.16 544.81,381.96 546.33,378.82 547.85,375.74 549.37,372.71 550.88,369.73 552.40,366.81 553.92,363.95 555.44,361.14 556.96,358.38 558.48,355.68 560.00,353.04 561.52,350.45 563.04,347.91 564.55,345.43 566.07,343.01 567.59,340.64 569.11,338.33 570.63,336.07 572.15,333.86 573.67,331.71 575.19,329.62 576.71,327.58 578.23,325.60 579.74,323.67 581.26,321.80 582.78,319.98 584.30,318.21 585.82,316.51 587.34,314.85 588.86,313.26 590.38,311.71 591.90,310.22 593.42,308.79 594.93,307.41 596.45,306.09 597.97,304.83 599.49,303.61 601.01,302.46 602.53,301.35 604.05,300.31 605.57,299.32 607.09,298.38 608.61,297.50 610.12,296.67 611.64,295.90 613.16,295.18 614.68,294.52 616.20,293.92 617.72,293.36 619.24,292.87 620.76,292.43 622.28,292.04 623.80,291.71 625.31,291.44 626.83,291.22 628.35,291.05 629.87,290.94 631.39,290.88 632.91,290.88 634.43,290.94 635.95,291.05 637.47,291.22 638.99,291.44 640.50,291.71 642.02,292.04 643.54,292.43 645.06,292.87 646.58,293.36 648.10,293.92 649.62,294.52 651.14,295.18 652.66,295.90 654.18,296.67 655.69,297.50 657.21,298.38 658.73,299.32 660.25,300.31 661.77,301.35 663.29,302.46 664.81,303.61 666.33,304.83 667.85,306.09 669.37,307.41 670.88,308.79 672.40,310.22 673.92,311.71 675.44,313.26 676.96,314.85 678.48,316.51 680.00,318.21 681.52,319.98 683.04,321.80 684.56,323.67 686.07,325.60 687.59,327.58 689.11,329.62 690.63,331.71 692.15,333.86 693.67,336.07 695.19,338.33 696.71,340.64 698.23,343.01 699.75,345.43 701.26,347.91 702.78,350.45 704.30,353.04 705.82,355.68 707.34,358.38 708.86,361.14 710.38,363.95 711.90,366.81 713.42,369.73 714.93,372.71 716.45,375.74 717.97,378.82 719.49,381.96 721.01,385.16 722.53,388.41 724.05,391.72 725.57,395.08 727.09,398.49 728.61,401.97 730.12,405.49 731.64,409.07 733.16,412.71 734.68,416.40 736.20,420.15 737.72,423.95 739.24,427.81 740.76,431.72 742.28,435.69 743.80,439.71 745.31,443.79 746.83,447.92 748.35,452.11 749.87,456.35 751.39,460.65 752.91,465.00" fill="none" stroke="#1a1a1a" stroke-width="1.1" clip-path="url(#c4)" stroke-linejoin="round"/>
<polyline points="521.27,465.00 522.67,462.38 524.06,459.80 525.46,457.25 526.85,454.73 528.25,452.25 529.64,449.79 531.04,447.38 532.43,444.99 533.83,442.64 535.22,440.32 536.62,438.03 538.01,435.78 539.41,433.56 540.80,431.37 542.19,429.22 543.59,427.10 544.98,425.01 546.38,422.96 547.77,420.94 549.17,418.95 550.56,417.00 551.96,415.08 553.35,413.19 554.75,411.33 556.14,409.51 557.54,407.72 558.93,405.96 560.32,404.24 561.72,402.55 563.11,400.90 564.51,399.27 565.90,397.68 567.30,396.13 568.69,394.60 570.09,393.11 571.48,391.65 572.88,390.23 574.27,388.84 575.67,387.48 577.06,386.15 578.46,384.86 579.85,383.60 581.24,382.38 582.64,381.18 584.03,380.03 585.43,378.90 586.82,377.81 588.22,376.75 589.61,375.72 591.01,374.72 592.40,373.76 593.80,372.84 595.19,371.94 596.59,371.08 597.98,370.25 599.38,369.46 600.77,368.70 602.16,367.97 603.56,367.27 604.95,366.61 606.35,365.98 607.74,365.38 609.14,364.82 610.53,364.29 611.93,363.79 613.32,363.33 614.72,362.90 616.11,362.50 617.51,362.14 618.90,361.80 620.30,361.51 621.69,361.24 623.08,361.01 624.48,360.81 625.87,360.65 627.27,360.51 628.66,360.41 630.06,360.35 631.45,360.31 632.85,360.31 634.24,360.35 635.64,360.41 637.03,360.51 638.43,360.65 639.82,360.81 641.22,361.01 642.61,361.24 644.00,361.51 645.40,361.80 646.79,362.14 648.19,362.50 649.58,362.90 650.98,363.33 652.37,363.79 653.77,364.29 655.16,364.82 656.56,365.38 657.95,365.98 659.35,366.61 660.74,367.27 662.14,367.97 663.53,368.70 664.92,369.46 666.32,370.25 667.71,371.08 669.11,371.94 670.50,372.84 671.90,373.76 673.29,374.72 674.69,375.72 676.08,376.75 677.48,377.81 678.87,378.90 680.27,380.03 681.66,381.18 683.06,382.38 684.45,383.60 685.84,384.86 687.24,386.15 688.63,387.48 690.03,388.84 691.42,390.23 692.82,391.65 694.21,393.11 695.61,394.60 697.00,396.13 698.40,397.68 699.79,399.27 701.19,400.90 702.58,402.55 703.98,404.24 705.37,405.96 706.76,407.72 708.16,409.51 709.55,411.33 710.95,413.19 712.34,415.08 713.74,417.00 715.13,418.95 716.53,420.94 717.92,422.96 719.32,425.01 720.71,427.10 722.11,429.22 723.50,431.37 724.89,433.56 726.29,435.78 727.68,438.03 729.08,440.32 730.47,442.64 731.87,444.99 733.26,447.38 734.66,449.79 736.05,452.25 737.45,454.73 738.84,457.25 740.24,459.80 741.63,462.38 743.03,465.00" fill="none" stroke="#dc3040" stroke-width="1.1" stroke-dasharray="5.5 3.5" clip-path="url(#c4)" stroke-linejoin="round"/>
<polyline points="531.59,465.00 532.85,463.63 534.12,462.28 535.38,460.94 536.65,459.62 537.91,458.32 539.18,457.04 540.44,455.77 541.71,454.52 542.97,453.29 544.24,452.08 545.50,450.88 546.77,449.70 548.03,448.54 549.30,447.40 550.56,446.27 551.83,445.16 553.09,444.07 554.36,442.99 555.62,441.93 556.89,440.89 558.15,439.87 559.42,438.86 560.68,437.88 561.95,436.90 563.21,435.95 564.48,435.01 565.74,434.09 567.01,433.19 568.27,432.31 569.54,431.44 570.80,430.59 572.07,429.76 573.33,428.94 574.60,428.15 575.86,427.37 577.13,426.60 578.39,425.86 579.66,425.13 580.92,424.42 582.19,423.72 583.45,423.05 584.72,422.39 585.98,421.75 587.25,421.12 588.51,420.51 589.78,419.92 591.04,419.35 592.30,418.80 593.57,418.26 594.83,417.74 596.10,417.24 597.36,416.75 598.63,416.28 599.89,415.83 601.16,415.40 602.42,414.98 603.69,414.58 604.95,414.20 606.22,413.84 607.48,413.49 608.75,413.16 610.01,412.85 611.28,412.55 612.54,412.28 613.81,412.02 615.07,411.77 616.34,411.55 617.60,411.34 618.87,411.15 620.13,410.98 621.40,410.82 622.66,410.68 623.93,410.56 625.19,410.46 626.46,410.37 627.72,410.30 628.99,410.25 630.25,410.21 631.52,410.20 632.78,410.20 634.05,410.21 635.31,410.25 636.58,410.30 637.84,410.37 639.11,410.46 640.37,410.56 641.64,410.68 642.90,410.82 644.17,410.98 645.43,411.15 646.70,411.34 647.96,411.55 649.23,411.77 650.49,412.02 651.76,412.28 653.02,412.55 654.29,412.85 655.55,413.16 656.82,413.49 658.08,413.84 659.35,414.20 660.61,414.58 661.88,414.98 663.14,415.40 664.41,415.83 665.67,416.28 666.94,416.75 668.20,417.24 669.47,417.74 670.73,418.26 672.00,418.80 673.26,419.35 674.52,419.92 675.79,420.51 677.05,421.12 678.32,421.75 679.58,422.39 680.85,423.05 682.11,423.72 683.38,424.42 684.64,425.13 685.91,425.86 687.17,426.60 688.44,427.37 689.70,428.15 690.97,428.94 692.23,429.76 693.50,430.59 694.76,431.44 696.03,432.31 697.29,433.19 698.56,434.09 699.82,435.01 701.09,435.95 702.35,436.90 703.62,437.88 704.88,438.86 706.15,439.87 707.41,440.89 708.68,441.93 709.94,442.99 711.21,444.07 712.47,445.16 713.74,446.27 715.00,447.40 716.27,448.54 717.53,449.70 718.80,450.88 720.06,452.08 721.33,453.29 722.59,454.52 723.86,455.77 725.12,457.04 726.39,458.32 727.65,459.62 728.92,460.94 730.18,462.28 731.45,463.63 732.71,465.00" fill="none" stroke="#3a86cc" stroke-width="1.1" stroke-dasharray="2.3 2.1" clip-path="url(#c4)" stroke-linejoin="round"/>
<text transform="translate(504.30,286.00) scale(1.18,1)" text-anchor="start" font-size="11.6" >(d)</text>
<line x1="678" y1="280" x2="698" y2="280" stroke="#1a1a1a" stroke-width="1.2"/>
<text transform="translate(704.20,284.00) scale(1.28,1)" text-anchor="start" font-size="11.6" >&#916;</text>
<text transform="translate(713.80,284.00) scale(1.2,1)" text-anchor="start" font-size="11.6" font-style="italic">&#952;</text>
<text transform="translate(723.80,284.00) scale(1.5,1)" text-anchor="start" font-size="11.6" >=</text>
<text transform="translate(736.40,284.00) scale(1.18,1)" text-anchor="start" font-size="11.6" >0.27</text>
<line x1="678" y1="294.4" x2="698" y2="294.4" stroke="#dc3040" stroke-width="1.2" stroke-dasharray="8 3.5"/>
<text transform="translate(704.20,298.40) scale(1.28,1)" text-anchor="start" font-size="11.6" >&#916;</text>
<text transform="translate(713.80,298.40) scale(1.2,1)" text-anchor="start" font-size="11.6" font-style="italic">&#952;</text>
<text transform="translate(723.80,298.40) scale(1.5,1)" text-anchor="start" font-size="11.6" >=</text>
<text transform="translate(736.40,298.40) scale(1.18,1)" text-anchor="start" font-size="11.6" >0.35</text>
<line x1="678" y1="308.8" x2="698" y2="308.8" stroke="#3a86cc" stroke-width="1.2" stroke-dasharray="2 3"/>
<text transform="translate(704.20,312.80) scale(1.28,1)" text-anchor="start" font-size="11.6" >&#916;</text>
<text transform="translate(713.80,312.80) scale(1.2,1)" text-anchor="start" font-size="11.6" font-style="italic">&#952;</text>
<text transform="translate(723.80,312.80) scale(1.5,1)" text-anchor="start" font-size="11.6" >=</text>
<text transform="translate(736.40,312.80) scale(1.18,1)" text-anchor="start" font-size="11.6" >0.40</text>
<text transform="translate(460,367.4) rotate(-90) scale(1.15,1)" font-size="12.5" font-style="italic" text-anchor="middle">h</text>
<text transform="translate(631.2,497) scale(1.15,1)" font-size="12.5" font-style="italic" text-anchor="middle">x</text>
<rect x="277.2" y="81.4" width="49.5" height="39.099999999999994" fill="#fff" stroke="#333" stroke-width="1.2"/>
<clipPath id="c5"><rect x="277.2" y="81.4" width="49.5" height="39.099999999999994"/></clipPath>
<polyline points="277.20,90.30 326.70,91.50" fill="none" stroke="#3a86cc" stroke-width="1.1" stroke-dasharray="2.3 2.1" clip-path="url(#c5)" stroke-linejoin="round"/>
<polyline points="277.20,96.00 290.00,95.30 326.70,97.60" fill="none" stroke="#dc3040" stroke-width="1.1" stroke-dasharray="5.5 3.5" clip-path="url(#c5)" stroke-linejoin="round"/>
<polyline points="277.20,108.40 300.00,108.40 326.70,110.20" fill="none" stroke="#1a1a1a" stroke-width="1.1" clip-path="url(#c5)" stroke-linejoin="round"/>
<line x1="288.45" y1="120.5" x2="288.45" y2="118.0" stroke="#4a4a4a" stroke-width="1"/>
<text transform="translate(288.45,135.40) scale(1.18,1)" text-anchor="middle" font-size="11.6" >0</text>
<line x1="306.88" y1="120.5" x2="306.88" y2="118.0" stroke="#4a4a4a" stroke-width="1"/>
<line x1="277.2" y1="116.59" x2="279.7" y2="116.59" stroke="#4a4a4a" stroke-width="1"/>
<text transform="translate(272.00,120.59) scale(1.18,1)" text-anchor="end" font-size="11.6" >0.83</text>
<line x1="277.2" y1="100.95" x2="279.7" y2="100.95" stroke="#4a4a4a" stroke-width="1"/>
<text transform="translate(272.00,104.95) scale(1.18,1)" text-anchor="end" font-size="11.6" >0.84</text>
<line x1="277.2" y1="85.31" x2="279.7" y2="85.31" stroke="#4a4a4a" stroke-width="1"/>
<text transform="translate(272.00,89.31) scale(1.18,1)" text-anchor="end" font-size="11.6" >0.85</text>
<text transform="translate(324.70,135.40) scale(1.18,1)" text-anchor="middle" font-size="11.6" >0.04</text>
<line x1="290.3" y1="57.5" x2="290.3" y2="78.5" stroke="#222" stroke-width="1"/>
<polygon points="290.3,78.5 288.20,73.50 292.40,73.50" fill="#222"/>
<rect x="220.5" y="157.3" width="48.0" height="38.39999999999998" fill="#fff" stroke="#333" stroke-width="1.2"/>
<clipPath id="c6"><rect x="220.5" y="157.3" width="48.0" height="38.39999999999998"/></clipPath>
<polyline points="220.50,193.30 268.50,179.30" fill="none" stroke="#3a86cc" stroke-width="1.1" stroke-dasharray="2.3 2.1" clip-path="url(#c6)" stroke-linejoin="round"/>
<polyline points="220.50,189.10 268.50,175.10" fill="none" stroke="#dc3040" stroke-width="1.1" stroke-dasharray="5.5 3.5" clip-path="url(#c6)" stroke-linejoin="round"/>
<polyline points="220.50,177.50 268.50,165.30" fill="none" stroke="#1a1a1a" stroke-width="1.1" clip-path="url(#c6)" stroke-linejoin="round"/>
<line x1="220.50" y1="195.7" x2="220.50" y2="193.2" stroke="#4a4a4a" stroke-width="1"/>
<text transform="translate(203.62,209.90) scale(1.5,1)" text-anchor="start" font-size="11.6" >&#8722;</text>
<text transform="translate(213.43,209.90) scale(1.18,1)" text-anchor="start" font-size="11.6" >0.99</text>
<line x1="244.50" y1="195.7" x2="244.50" y2="193.2" stroke="#4a4a4a" stroke-width="1"/>
<line x1="268.50" y1="195.7" x2="268.50" y2="193.2" stroke="#4a4a4a" stroke-width="1"/>
<text transform="translate(251.62,209.90) scale(1.5,1)" text-anchor="start" font-size="11.6" >&#8722;</text>
<text transform="translate(261.43,209.90) scale(1.18,1)" text-anchor="start" font-size="11.6" >0.98</text>
<line x1="220.5" y1="191.11" x2="223.0" y2="191.11" stroke="#4a4a4a" stroke-width="1"/>
<text transform="translate(213.90,195.11) scale(1.18,1)" text-anchor="end" font-size="11.6" >0.03</text>
<line x1="220.5" y1="174.41" x2="223.0" y2="174.41" stroke="#4a4a4a" stroke-width="1"/>
<text transform="translate(213.90,178.41) scale(1.18,1)" text-anchor="end" font-size="11.6" >0.05</text>
<line x1="220.5" y1="157.72" x2="223.0" y2="157.72" stroke="#4a4a4a" stroke-width="1"/>
<text transform="translate(213.90,161.72) scale(1.18,1)" text-anchor="end" font-size="11.6" >0.07</text>
<line x1="170.5" y1="204.5" x2="188" y2="190.5" stroke="#222" stroke-width="1"/>
<polygon points="188,190.5 185.41,195.26 182.78,191.98" fill="#222"/>
<rect x="326.9" y="157.1" width="48.5" height="38.70000000000002" fill="#fff" stroke="#333" stroke-width="1.2"/>
<clipPath id="c7"><rect x="326.9" y="157.1" width="48.5" height="38.70000000000002"/></clipPath>
<polyline points="326.90,178.40 375.40,190.50" fill="none" stroke="#3a86cc" stroke-width="1.1" stroke-dasharray="2.3 2.1" clip-path="url(#c7)" stroke-linejoin="round"/>
<polyline points="326.90,174.60 375.40,186.70" fill="none" stroke="#dc3040" stroke-width="1.1" stroke-dasharray="5.5 3.5" clip-path="url(#c7)" stroke-linejoin="round"/>
<polyline points="326.90,164.30 375.40,176.90" fill="none" stroke="#1a1a1a" stroke-width="1.1" clip-path="url(#c7)" stroke-linejoin="round"/>
<line x1="346.10" y1="195.8" x2="346.10" y2="193.3" stroke="#4a4a4a" stroke-width="1"/>
<line x1="371.36" y1="195.8" x2="371.36" y2="193.3" stroke="#4a4a4a" stroke-width="1"/>
<line x1="326.9" y1="193.65" x2="329.4" y2="193.65" stroke="#4a4a4a" stroke-width="1"/>
<text transform="translate(321.90,197.65) scale(1.18,1)" text-anchor="end" font-size="11.6" >0.09</text>
<line x1="326.9" y1="176.45" x2="329.4" y2="176.45" stroke="#4a4a4a" stroke-width="1"/>
<text transform="translate(321.90,180.45) scale(1.18,1)" text-anchor="end" font-size="11.6" >0.11</text>
<line x1="326.9" y1="159.25" x2="329.4" y2="159.25" stroke="#4a4a4a" stroke-width="1"/>
<text transform="translate(321.90,163.25) scale(1.18,1)" text-anchor="end" font-size="11.6" >0.13</text>
<text transform="translate(344.00,210.40) scale(1.18,1)" text-anchor="middle" font-size="11.6" >0.945</text>
<text transform="translate(378.00,210.40) scale(1.18,1)" text-anchor="middle" font-size="11.6" >0.950</text>
<line x1="399.2" y1="199.6" x2="381" y2="187.2" stroke="#222" stroke-width="1"/>
<polygon points="381,187.2 386.31,188.28 383.95,191.75" fill="#222"/>
<rect x="651.3" y="157.1" width="68.20000000000005" height="38.30000000000001" fill="#fff" stroke="#333" stroke-width="1.2"/>
<clipPath id="c8"><rect x="651.3" y="157.1" width="68.20000000000005" height="38.30000000000001"/></clipPath>
<polyline points="687.80,157.10 688.39,159.12 688.99,161.13 689.61,163.15 690.25,165.16 690.90,167.18 691.57,169.19 692.26,171.21 692.96,173.23 693.68,175.24 694.42,177.26 695.17,179.27 695.94,181.29 696.73,183.31 697.53,185.32 698.35,187.34 699.19,189.35 700.04,191.37 700.91,193.38 701.80,195.40" fill="none" stroke="#3a86cc" stroke-width="1.1" stroke-dasharray="2.3 2.1" clip-path="url(#c8)" stroke-linejoin="round"/>
<polyline points="684.00,157.10 684.54,159.12 685.10,161.13 685.67,163.15 686.26,165.16 686.87,167.18 687.49,169.19 688.13,171.21 688.78,173.23 689.46,175.24 690.15,177.26 690.85,179.27 691.58,181.29 692.31,183.31 693.07,185.32 693.84,187.34 694.63,189.35 695.44,191.37 696.26,193.38 697.10,195.40" fill="none" stroke="#dc3040" stroke-width="1.1" stroke-dasharray="5.5 3.5" clip-path="url(#c8)" stroke-linejoin="round"/>
<polyline points="657.00,157.10 657.63,159.12 658.29,161.13 658.95,163.15 659.64,165.16 660.34,167.18 661.06,169.19 661.79,171.21 662.54,173.23 663.31,175.24 664.09,177.26 664.90,179.27 665.71,181.29 666.55,183.31 667.40,185.32 668.26,187.34 669.15,189.35 670.05,191.37 670.97,193.38 671.90,195.40" fill="none" stroke="#1a1a1a" stroke-width="1.1" clip-path="url(#c8)" stroke-linejoin="round"/>
<line x1="689.19" y1="195.4" x2="689.19" y2="192.9" stroke="#4a4a4a" stroke-width="1"/>
<line x1="651.3" y1="185.26" x2="653.8" y2="185.26" stroke="#4a4a4a" stroke-width="1"/>
<text transform="translate(645.70,189.26) scale(1.18,1)" text-anchor="end" font-size="11.6" >0.0730</text>
<line x1="651.3" y1="174.00" x2="653.8" y2="174.00" stroke="#4a4a4a" stroke-width="1"/>
<text transform="translate(645.70,178.00) scale(1.18,1)" text-anchor="end" font-size="11.6" >0.0735</text>
<line x1="651.3" y1="162.73" x2="653.8" y2="162.73" stroke="#4a4a4a" stroke-width="1"/>
<text transform="translate(645.70,166.73) scale(1.18,1)" text-anchor="end" font-size="11.6" >0.0740</text>
<text transform="translate(651.30,209.70) scale(1.18,1)" text-anchor="middle" font-size="11.6" >0.85</text>
<text transform="translate(689.20,209.70) scale(1.18,1)" text-anchor="middle" font-size="11.6" >0.86</text>
<line x1="744.7" y1="189.8" x2="727" y2="179.5" stroke="#222" stroke-width="1"/>
<polygon points="727,179.5 732.38,180.20 730.27,183.83" fill="#222"/>
<rect x="135.7" y="0" width="1.6" height="1.3" fill="#888"/>
<rect x="330.9" y="0" width="1.6" height="1.3" fill="#888"/>
<rect x="395.0" y="0" width="1.6" height="1.3" fill="#888"/>
<rect x="409.0" y="0" width="1.6" height="1.3" fill="#888"/>
<text x="168.3" y="532.6" font-size="13.6" font-family="&quot;Liberation Serif&quot;, &quot;Noto Serif CJK SC&quot;, serif" style="fill:#333;stroke-width:0.15px">图</text>
<text transform="translate(187.6,532.6) scale(1.05,1)" font-size="12.6" font-family="&quot;Liberation Serif&quot;, &quot;Noto Serif CJK SC&quot;, serif" style="fill:#333">4</text>
<text x="212.8" y="532.6" font-size="13.8" font-family="&quot;Liberation Serif&quot;, &quot;Noto Serif CJK SC&quot;, serif" letter-spacing="0.55" style="fill:#333;stroke-width:0.15px">液滴演化过程轮廓图</text>
<text x="359.3" y="532.8" font-size="12.4" font-family="&quot;Liberation Serif&quot;, &quot;Noto Serif CJK SC&quot;, serif" textLength="347.5" lengthAdjust="spacingAndGlyphs" style="fill:#333;stroke:none;white-space:pre">(a) <tspan font-style="italic">t</tspan> = 10000; (b) <tspan font-style="italic">t</tspan> = 50000; (c) <tspan font-style="italic">t</tspan> = 70000; (d) <tspan font-style="italic">t</tspan> = 74000</text>
</svg>
</body></html>
